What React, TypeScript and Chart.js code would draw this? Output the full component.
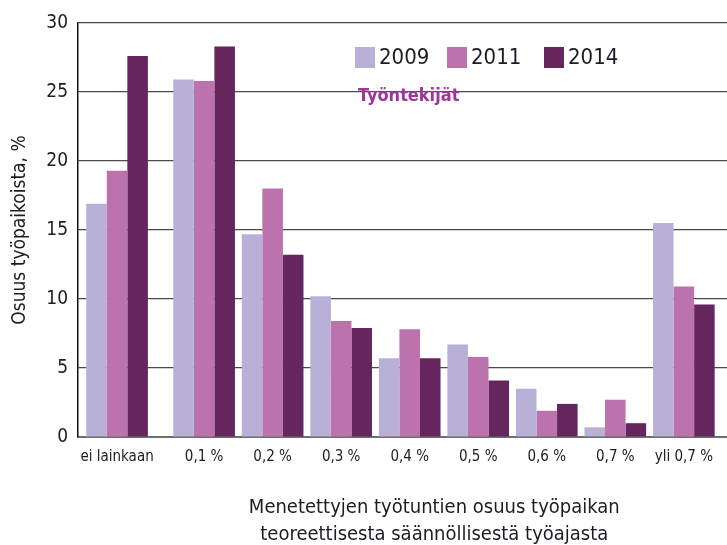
import React, { useEffect, useRef } from "react";
import { Chart, registerables } from "chart.js";

Chart.register(...registerables);

const categories = ["ei lainkaan", "0,1 %", "0,2 %", "0,3 %", "0,4 %", "0,5 %", "0,6 %", "0,7 %", "yli 0,7 %"];
const years = ["2009", "2011", "2014"];
const values2009 = [16.9, 25.9, 14.7, 10.2, 5.7, 6.7, 3.5, 0.7, 15.5];
const values2011 = [19.3, 25.8, 18.0, 8.4, 7.8, 5.8, 1.9, 2.7, 10.9];
const values2014 = [27.6, 28.3, 13.2, 7.9, 5.7, 4.1, 2.4, 1.0, 9.6];
const yTicks = [0, 5, 10, 15, 20, 25, 30];
const subtitle = "Työntekijät";
const yTitle = "Osuus työpaikoista, %";
const xTitleLines = ["Menetettyjen työtuntien osuus työpaikan", "teoreettisesta säännöllisestä työajasta"];

const colors = ["#b8b0d6", "#bc72ac", "#65265e"];
const FONT = "'DejaVu Sans Condensed', 'DejaVu Sans', sans-serif";
const TEXT = "#1c1c26";
// extra gap separating the first category from the others (layout, in category units)
const FIRST_GAP = 0.27;
const positions = categories.map((_, i) => i + (i > 0 ? FIRST_GAP : 0));

const annotations = {
  id: "annotations",
  afterDraw(chart: any) {
    const { ctx, chartArea } = chart;
    const L = chartArea.left;
    const T = chartArea.top;
    ctx.save();
    // legend
    const sq = [277, 369, 466];
    years.forEach((y, i) => {
      ctx.fillStyle = colors[i];
      ctx.fillRect(L + sq[i], T + 24, 20, 21);
      ctx.fillStyle = TEXT;
      ctx.font = `22px ${FONT}`;
      ctx.textBaseline = "middle";
      ctx.textAlign = "left";
      ctx.fillText(y, L + sq[i] + 24, T + 35);
    });
    // subtitle
    ctx.fillStyle = "#a0349a";
    ctx.font = `bold 18px ${FONT}`;
    ctx.textBaseline = "alphabetic";
    ctx.fillText(subtitle, L + 280, T + 78);
    // x title
    ctx.fillStyle = TEXT;
    ctx.font = `20px ${FONT}`;
    ctx.textAlign = "center";
    ctx.textBaseline = "middle";
    const cx = L + (chartArea.right - L) * 0.549;
    ctx.fillText(xTitleLines[0], cx, chartArea.bottom + 71);
    ctx.fillText(xTitleLines[1], cx, chartArea.bottom + 98);
    ctx.restore();
  },
};

export default function App() {
  const ref = useRef<HTMLCanvasElement>(null);
  useEffect(() => {
    const series = [values2009, values2011, values2014];
    const chart = new Chart(ref.current!, {
      type: "bar",
      data: {
        datasets: years.map((y, i) => ({
          label: y,
          data: series[i].map((v, j) => ({ x: positions[j], y: v })),
          backgroundColor: colors[i],
          borderWidth: 0,
          categoryPercentage: 0.9,
          barPercentage: 1.0,
        })),
      },
      options: {
        animation: false,
        responsive: false,
        layout: { padding: { top: 23, right: 0, left: 0, bottom: 0 } },
        plugins: { legend: { display: false }, tooltip: { enabled: false } },
        scales: {
          x: {
            type: "linear",
            offset: false,
            min: -0.57,
            max: 8.9,
            grid: { display: false, drawTicks: false, offset: false },
            border: { display: true, color: "#6e6e6e", width: 2 },
            afterBuildTicks: (scale: any) => {
              scale.ticks = positions.map((v) => ({ value: v }));
            },
            afterFit: (scale: any) => {
              scale.height = 108;
            },
            ticks: {
              autoSkip: false,
              maxRotation: 0,
              padding: 11,
              color: TEXT,
              font: { family: FONT, size: 15 },
              callback: (_v: any, i: number) => categories[i],
            },
          },
          y: {
            min: 0,
            max: 30,
            afterBuildTicks: (scale: any) => {
              scale.ticks = yTicks.map((v) => ({ value: v }));
            },
            afterFit: (scale: any) => {
              scale.width = 78;
            },
            grid: { color: "#4a4a4a", lineWidth: 1.2, drawTicks: false },
            border: { display: true, color: "#111", width: 1.5 },
            ticks: {
              padding: 10,
              color: TEXT,
              font: { family: FONT, size: 19 },
            },
            title: {
              display: true,
              text: yTitle,
              color: TEXT,
              font: { family: FONT, size: 19 },
              padding: { top: 9, bottom: 0 },
            },
          },
        },
      },
      plugins: [annotations],
    });
    return () => chart.destroy();
  }, []);
  return (
    <div style={{ position: "absolute", left: 0, top: 0, width: 727, height: 545, background: "#fff" }}>
      <canvas ref={ref} width={727} height={545} />
    </div>
  );
}
